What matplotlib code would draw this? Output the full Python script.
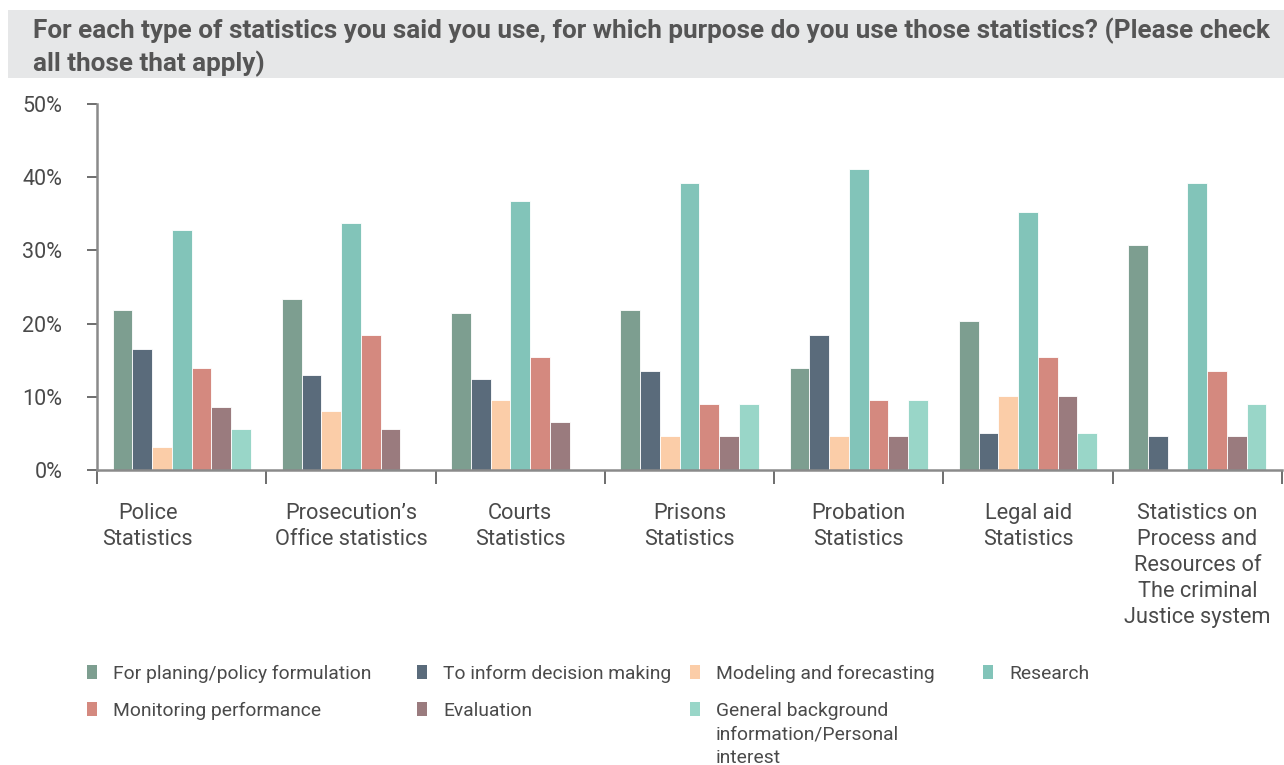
import numpy as np
import matplotlib.pyplot as plt
import matplotlib.transforms as mtransforms
from matplotlib.patches import Rectangle

plt.rcParams['font.family'] = ['Roboto', 'DejaVu Sans']

categories = [
    'Police\nStatistics',
    'Prosecution\u2019s\nOffice statistics',
    'Courts\nStatistics',
    'Prisons\nStatistics',
    'Probation\nStatistics',
    'Legal aid\nStatistics',
    'Statistics on\nProcess and\nResources of\nThe criminal\nJustice system',
]

series_names = [
    'For planing/policy formulation',
    'To inform decision making',
    'Modeling and forecasting',
    'Research',
    'Monitoring performance',
    'Evaluation',
    'General background\ninformation/Personal\ninterest',
]

# percent of respondents, one list per purpose (order = categories)
planning = [21.9, 23.4, 21.4, 21.9, 14.0, 20.4, 30.8]
decision = [16.5, 13.0, 12.5, 13.5, 18.4, 5.1, 4.6]
modeling = [3.1, 8.1, 9.6, 4.6, 4.6, 10.1, 0]
research = [32.8, 33.8, 36.7, 39.2, 41.1, 35.2, 39.2]
monitoring = [14.0, 18.4, 15.4, 9.0, 9.6, 15.5, 13.5]
evaluation = [8.6, 5.6, 6.5, 4.6, 4.6, 10.1, 4.6]
background = [5.6, 0, 0, 9.0, 9.6, 5.1, 9.0]

yticks = [0, 10, 20, 30, 40, 50]

colors = ['#7d9e90', '#5a6b7b', '#fbcda8', '#82c4b9', '#d4897f', '#9a7b7e', '#99d6c8']
values = [planning, decision, modeling, research, monitoring, evaluation, background]

text_col = '#4a4a4a'
spine_col = '#8a8a8a'

fig = plt.figure(figsize=(12.84, 7.65), dpi=100)
ax = fig.add_axes([97/1284, 1-470/765, 1185/1284, 366/765])

x = np.arange(len(categories))
w = 0.1165
for i, (vals, c) in enumerate(zip(values, colors)):
    ax.bar(x + (i - 3) * w, vals, width=w, color=c, edgecolor='white', linewidth=0.6, zorder=2)

ax.set_xlim(-0.5, len(categories) - 0.5)
ax.set_ylim(0, 50)
ax.set_yticks(yticks)
ax.set_yticklabels([f'{v}%' for v in yticks])

# boundary ticks between groups, labels at the group centres
ax.set_xticks(np.arange(len(categories) + 1) - 0.5)
ax.set_xticklabels([])
ax.set_xticks(x, minor=True)
ax.set_xticklabels(categories, minor=True, fontsize=15.7, color=text_col, linespacing=1.3)
ax.tick_params(axis='x', which='major', length=10, width=1.2, color='#555555', direction='out')
ax.tick_params(axis='x', which='minor', length=0, pad=24)
ax.tick_params(axis='y', length=7, width=1.2, color='#555555', labelsize=15.5, labelcolor=text_col, pad=18)

# first label sits a bit left of its group
first = ax.get_xticklabels(minor=True)[0]
first.set_transform(first.get_transform() + mtransforms.ScaledTranslation(-34/100, 0, fig.dpi_scale_trans))

for s in ['top', 'right']:
    ax.spines[s].set_visible(False)
for s in ['left', 'bottom']:
    ax.spines[s].set_color(spine_col)
    ax.spines[s].set_linewidth(1.8)

# title band
fig.patches.append(Rectangle((8/1284, 1-78/765), 1, 68/765, transform=fig.transFigure,
                             facecolor='#e6e7e8', edgecolor='none', zorder=0))
fig.text(33/1284, 1-47/765,
         'For each type of statistics you said you use, for which purpose do you use those statistics? (Please check\nall those that apply)',
         fontsize=18.8, fontweight='bold', color='#555555', va='center', ha='left', linespacing=1.32)

# legend grid
col_x = [87, 417, 690, 983]
row_y = [672, 709]
for i, (name, c) in enumerate(zip(series_names, colors)):
    r, k = divmod(i, 4)
    px, py = col_x[k], row_y[r]
    fig.patches.append(Rectangle((px/1284, 1-(py+7)/765), 10/1284, 14/765, transform=fig.transFigure,
                                 facecolor=c, edgecolor='none'))
    fig.text((px+26)/1284, 1-(py-7)/765, name, fontsize=13.9, color=text_col,
             va='top', ha='left', linespacing=1.38)

fig.savefig('out.png', dpi=100)
